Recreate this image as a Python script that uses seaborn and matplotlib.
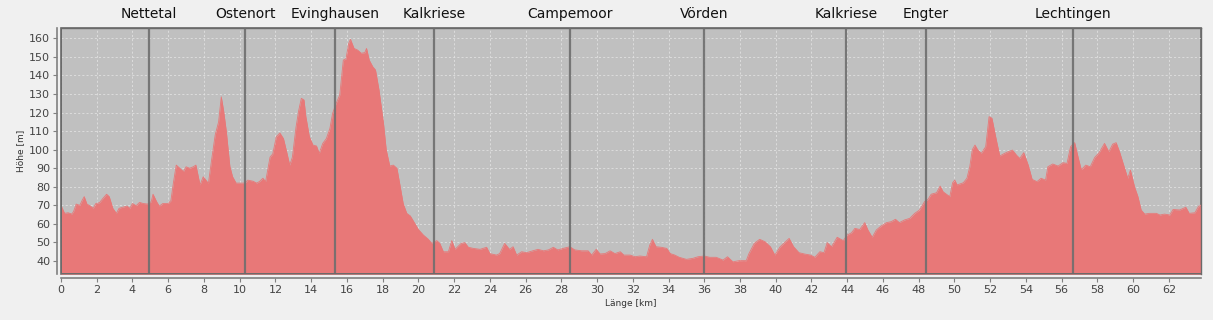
import matplotlib
matplotlib.use("Agg")
import matplotlib.pyplot as plt
import seaborn as sns
import pandas as pd

# --- data -------------------------------------------------------------
km = [0.0, 0.2, 0.4, 0.6, 0.7, 0.85, 1.05, 1.2, 1.3, 1.45, 1.65, 1.8, 1.95, 2.15, 2.35, 2.55, 2.7, 2.9,
      3.1, 3.25, 3.45, 3.7, 3.85, 4.0, 4.2, 4.4, 4.6, 4.85, 5.05, 5.15, 5.35, 5.5, 5.7, 6.0, 6.15, 6.3,
      6.45, 6.65, 6.85, 7.0, 7.2, 7.4, 7.55, 7.78, 7.96, 8.25, 8.44, 8.63, 8.82, 8.97, 9.1, 9.25, 9.45,
      9.6, 9.8, 10.0, 10.3, 10.45, 10.75, 10.95, 11.1, 11.3, 11.45, 11.7, 11.85, 12.05, 12.25, 12.45,
      12.6, 12.8, 12.95, 13.15, 13.3, 13.45, 13.6, 13.7, 13.9, 14.1, 14.3, 14.45, 14.65, 14.85, 15.05,
      15.2, 15.4, 15.6, 15.8, 15.95, 16.1, 16.2, 16.4, 16.6, 16.8, 17.0, 17.1, 17.25, 17.45, 17.6, 17.8,
      18.05, 18.2, 18.4, 18.6, 18.8, 18.95, 19.15, 19.35, 19.55, 19.8, 20.0, 20.28, 20.56, 20.75, 21.03,
      21.2, 21.4, 21.68, 21.87, 22.05, 22.2, 22.4, 22.6, 22.8, 23.08, 23.45, 23.82, 24.0, 24.37, 24.55,
      24.83, 25.1, 25.3, 25.5, 25.78, 26.06, 26.4, 26.7, 27.0, 27.28, 27.55, 27.8, 28.1, 28.48, 28.75,
      29.13, 29.5, 29.7, 29.95, 30.17, 30.45, 30.73, 31.0, 31.3, 31.5, 31.85, 32.12, 32.4, 32.77, 32.95,
      33.1, 33.3, 33.6, 33.9, 34.1, 34.35, 34.6, 35.0, 35.35, 35.65, 36.0, 36.3, 36.67, 37.05, 37.3,
      37.6, 37.97, 38.35, 38.5, 38.8, 39.1, 39.4, 39.7, 39.95, 40.25, 40.55, 40.75, 41.0, 41.3, 41.6,
      41.95, 42.19, 42.47, 42.7, 42.88, 43.12, 43.44, 43.78, 44.0, 44.24, 44.43, 44.7, 44.98, 45.16,
      45.4, 45.63, 45.9, 46.2, 46.46, 46.7, 46.92, 47.2, 47.5, 47.78, 48.05, 48.33, 48.52, 48.7, 49.0,
      49.2, 49.37, 49.74, 49.9, 50.02, 50.15, 50.5, 50.7, 50.86, 51.0, 51.15, 51.3, 51.5, 51.75, 51.94,
      52.1, 52.35, 52.54, 52.8, 53.0, 53.25, 53.48, 53.66, 53.88, 54.13, 54.35, 54.62, 54.85, 55.1,
      55.23, 55.5, 55.8, 56.08, 56.3, 56.5, 56.73, 56.92, 57.1, 57.35, 57.6, 57.85, 58.1, 58.4, 58.64,
      58.86, 59.05, 59.24, 59.5, 59.7, 59.85, 60.08, 60.27, 60.45, 60.65, 60.92, 61.3, 61.5, 61.76,
      62.05, 62.24, 62.6, 62.95, 63.14, 63.46, 63.65, 63.8]
hoehe = [70, 65.7, 66, 65.3, 66.6, 70.7, 70, 73, 74.7, 70.7, 69.6, 68.4, 71, 71.4, 73.8, 76, 74.7, 68.4,
         65.7, 68.4, 69, 69.6, 68.4, 71, 69.8, 71.6, 71, 70.7, 72, 76, 72, 69.6, 71, 71, 72.5, 82.8,
         91.7, 90, 88.2, 90.8, 90, 90.8, 91.7, 81, 85.4, 81.9, 95.3, 108, 115, 128.5, 121, 110, 91,
         85.5, 82, 82, 82, 83.6, 83, 82, 82.8, 84.6, 82.8, 96, 97.7, 107, 109, 106,
         100, 91.7, 96, 112, 121, 127.7, 126.8, 118, 107, 102.5, 102, 98, 103.4, 106, 111.5,
         119.6, 125, 129.5, 148.3, 149, 157.3, 159.5, 154.6, 153.7, 152, 152.3, 154.6, 148.3, 144.7, 143, 132,
         114, 100, 91.2, 91.7, 90, 82, 71, 65.7, 64.3, 60.3, 57, 54, 51.7, 49.5, 51,
         49.5, 45, 45, 51, 46.3, 47.7, 49.5, 49.9, 47.4, 46.8, 46.3, 47.4, 44, 43.2, 44,
         49.5, 46.3, 47.7, 43.2, 45, 44.5, 45.5, 46.3, 45.5, 46, 47.4, 46, 46.8, 47.7, 46,
         45.5, 45.5, 43.2, 46.3, 43.8, 44, 45.5, 44, 45, 43.2, 43.2, 42.3, 42.7, 42.3, 48.6,
         51.7, 47.7, 47.4, 46.8, 44, 43.2, 42, 40.9, 41.4, 42.3, 42.7, 42, 42, 40.5, 42.3,
         39.6, 40.2, 40.2, 44, 49.5, 51.7, 50.4, 47.7, 43.2, 47.7, 50.4, 52.2, 47.7, 44.5, 43.8,
         43.2, 42, 45, 44.5, 49.9, 47.7, 52.8, 51, 54, 55.2, 57.6, 57, 60.7, 56.7,
         52.8, 56.7, 58.9, 60.7, 61.2, 62.5, 60.7, 62.1, 63, 65.7, 67.5, 72, 73.2, 76, 76.8,
         80.4, 77.3, 74.7, 82.2, 83.6, 81, 82.2, 84.6, 90.8, 100, 102.5, 100, 98, 101.6, 117.8,
         117, 105, 96.6, 98, 98.9, 99.8, 97, 95.3, 98.4, 91.7, 84, 82.8, 84.6, 83.6,
         90.8, 92.3, 91.2, 93, 92.6, 101.6, 103.8, 96, 89.2, 91.7, 90.8, 95.8, 98.4, 103.4, 98.9,
         103, 103.8, 98.9, 90.8, 84.6, 89, 80, 74.7, 67.5, 65.3, 65.7, 65.7, 64.8, 65.3,
         64.8, 67.8, 67.5, 69, 65.7, 66, 69.3, 70.2]

orte = ["Nettetal", "Ostenort", "Evinghausen", "Kalkriese", "Campemoor", "Vörden",
        "Kalkriese", "Engter", "Lechtingen"]
orte_km = [4.91, 10.31, 15.35, 20.87, 28.5, 35.98, 43.93, 48.4, 56.65]

x_ticks = list(range(0, 63, 2))
y_ticks = list(range(40, 161, 10))

df = pd.DataFrame({"km": km, "hoehe": hoehe})

# --- style ------------------------------------------------------------
sns.set_theme(style="white")
plt.rcParams["font.family"] = ["DejaVu Sans"]

fill_col = "#e87878"
fig = plt.figure(figsize=(12.13, 3.20), dpi=100, facecolor="#f0f0f0")
ax = fig.add_axes([61 / 1213, 1 - 274 / 320, (1201 - 61) / 1213, (274 - 28) / 320])
ax.set_facecolor("#c0c0c0")

ymin, ymax = 33.0, 165.6
ax.set_xlim(0, 63.8)
ax.set_ylim(ymin, ymax)

ax.set_xticks(x_ticks)
ax.set_yticks(y_ticks)
ax.grid(True, color="#e4e4e4", linestyle=(0, (2.5, 2.5)), linewidth=0.6, alpha=0.9)
ax.set_axisbelow(True)

ax.fill_between(df["km"], ymin, df["hoehe"], color=fill_col, linewidth=0, zorder=2)
sns.lineplot(data=df, x="km", y="hoehe", ax=ax, color=fill_col, linewidth=0.6, zorder=3)

for name, pos in zip(orte, orte_km):
    ax.axvline(pos, color="#6e6e6e", linewidth=1.6, alpha=0.9, zorder=4)
    ax.text(pos, 1.057, name, transform=ax.get_xaxis_transform(), ha="center", va="center",
            fontsize=10, color="#111111")

# frame of plot area
ax.patch.set_edgecolor("#6a6a6a")
ax.patch.set_linewidth(1.2)
for s in ["top", "right"]:
    ax.spines[s].set_visible(True)
    ax.spines[s].set_color("#6a6a6a")
    ax.spines[s].set_linewidth(1.0)
for s in ["left", "bottom"]:
    ax.spines[s].set_position(("outward", 2.8))
    ax.spines[s].set_color("#808080")
    ax.spines[s].set_linewidth(1.2)

# inner left/bottom border lines
ax.axvline(0, color="#6a6a6a", linewidth=1.4, zorder=5)
ax.axhline(ymin, color="#6a6a6a", linewidth=1.4, zorder=5)

ax.tick_params(axis="both", which="both", direction="out", length=3, width=0.8,
               color="#808080", labelcolor="#444444", labelsize=8, pad=2,
               bottom=True, left=True)

ax.set_xlabel("Länge [km]", fontsize=6.5, color="#333333", labelpad=3)
ax.set_ylabel("Höhe [m]", fontsize=6.5, color="#333333", labelpad=3)

fig.savefig("out.png", dpi=100, facecolor=fig.get_facecolor())
